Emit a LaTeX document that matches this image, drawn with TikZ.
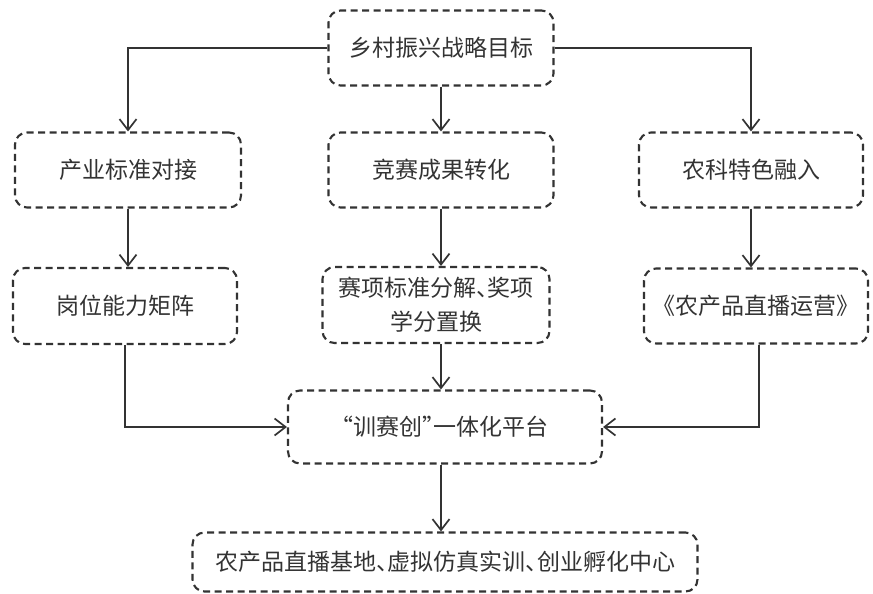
\documentclass[tikz,border=0pt]{standalone}
\usepackage{fontspec}
\setmainfont{Noto Sans CJK SC}
\usetikzlibrary{arrows.meta}
\definecolor{ink}{HTML}{333333}
\newcommand{\hw}[1]{{\addfontfeature{RawFeature=+halt}#1}}
\begin{document}
\begin{tikzpicture}[x=1pt,y=-1pt,
  box/.style={draw=ink, line width=2.1pt, dash pattern=on 7pt off 4.5pt, rounded corners=12pt,
    text=ink, font=\fontsize{23}{34}\selectfont, align=center, inner sep=0pt},
  link/.style={draw=ink, line width=1.7pt, -{Straight Barb[length=11pt,width=17pt,line width=1.7pt]}}]
\useasboundingbox (0,0) rectangle (873,594);
\node[box, minimum width=225pt, minimum height=75pt] (top) at (441,48) {乡村振兴战略目标};
\node[box, minimum width=226pt, minimum height=75pt] (r2l) at (128,170) {产业标准对接};
\node[box, minimum width=225pt, minimum height=75pt] (r2m) at (441,170) {竞赛成果转化};
\node[box, minimum width=224pt, minimum height=75pt] (r2r) at (751,170) {农科特色融入};
\node[box, minimum width=224pt, minimum height=76pt] (r3l) at (125,306) {岗位能力矩阵};
\node[box, minimum width=227pt, minimum height=76pt] (r3m) at (436,305) {赛项标准分解\hw{、}奖项\\学分置换};
\node[box, minimum width=224pt, minimum height=75pt] (r3r) at (756,306) {《农产品直播运营》};
\node[box, minimum width=314pt, minimum height=73pt] (plat) at (445,427) {\hw{“}训赛创\hw{”}一体化平台};
\node[box, minimum width=505pt, minimum height=59pt] (bot) at (445,562) {农产品直播基地\hw{、}虚拟仿真实训\hw{、}创业孵化中心};
\draw[link] (top.west) -| (r2l.north);
\draw[link] (top.east) -| (r2r.north);
\draw[link] (top.south) -- (r2m.north);
\draw[link] (r2l.south) -- (r2l.south |- r3l.north);
\draw[link] (r2m.south) -- (r2m.south |- r3m.north);
\draw[link] (r2r.south) -- (r2r.south |- r3r.north);
\draw[link] (r3l.south) |- (plat.west);
\draw[link] ([xshift=3pt]r3r.south) |- (plat.east);
\draw[link] (r3m.south -| top.south) -- (plat.north -| top.south);
\draw[link] (plat.south -| top.south) -- (bot.north -| top.south);
\end{tikzpicture}
\end{document}
